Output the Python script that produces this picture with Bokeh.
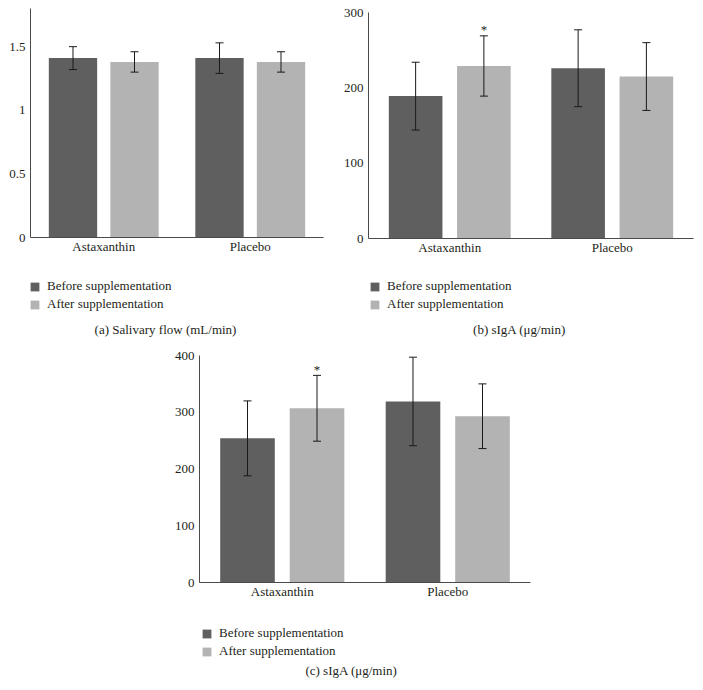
from bokeh.plotting import figure
from bokeh.layouts import column, row
from bokeh.models import (ColumnDataSource, Range1d, FixedTicker, CustomJSTickFormatter,
                          Whisker, TeeHead, Legend, LegendItem, Label)
from bokeh.core.properties import value
from bokeh.embed import file_html
from bokeh.resources import INLINE

# ---------------- data ----------------
categories = ["Astaxanthin", "Placebo"]
series_names = ["Before supplementation", "After supplementation"]

flow_before = [1.41, 1.41]
flow_before_sd = [0.09, 0.12]
flow_after = [1.38, 1.38]
flow_after_sd = [0.08, 0.08]
flow_sig = [False, False]
flow_ticks = [0, 0.5, 1, 1.5]
flow_max = 1.8

igab_before = [189, 226]
igab_before_sd = [45, 51]
igab_after = [229, 215]
igab_after_sd = [40, 45]
igab_sig = [True, False]
igab_ticks = [0, 100, 200, 300]
igab_max = 300

igac_before = [254, 319]
igac_before_sd = [66, 78]
igac_after = [307, 293]
igac_after_sd = [58, 57]
igac_sig = [True, False]
igac_ticks = [0, 100, 200, 300, 400]
igac_max = 400

captions = ["(a) Salivary flow (mL/min)", "(b) sIgA (\u03bcg/min)", "(c) sIgA (\u03bcg/min)"]

# ---------------- style ----------------
FONT = "Liberation Serif"
TXT = "#231f20"
AXIS = "#4a4a4a"
DARK = "#5f5f5f"
LIGHT = "#b3b3b3"
ERR = "#1a1a1a"
OFF = 0.21
BW = 0.33
FS = "13px"


def chart(before, before_sd, after, after_sd, sig, y_max, ticks,
          width, height, bl, br, bt, bb):
    n = len(categories)
    p = figure(width=width, height=height, x_range=Range1d(0, n), y_range=Range1d(0, y_max),
               output_backend="svg", toolbar_location=None,
               min_border_left=bl, min_border_right=br, min_border_top=bt, min_border_bottom=bb)
    p.outline_line_color = None
    p.xgrid.visible = False
    p.ygrid.visible = False

    xb = [i + 0.5 - OFF for i in range(n)]
    xa = [i + 0.5 + OFF for i in range(n)]
    src_b = ColumnDataSource(dict(x=xb, top=before,
                                  upper=[v + e for v, e in zip(before, before_sd)],
                                  lower=[v - e for v, e in zip(before, before_sd)]))
    src_a = ColumnDataSource(dict(x=xa, top=after,
                                  upper=[v + e for v, e in zip(after, after_sd)],
                                  lower=[v - e for v, e in zip(after, after_sd)]))
    p.vbar(x="x", top="top", width=BW, source=src_b, fill_color=DARK, line_color=None)
    p.vbar(x="x", top="top", width=BW, source=src_a, fill_color=LIGHT, line_color=None)

    for src in (src_b, src_a):
        p.add_layout(Whisker(source=src, base="x", upper="upper", lower="lower",
                             dimension="height", line_color=ERR, line_width=1,
                             level="annotation",
                             upper_head=TeeHead(size=8, line_color=ERR, line_width=1),
                             lower_head=TeeHead(size=8, line_color=ERR, line_width=1)))

    sx = [x for x, s in zip(xa, sig) if s]
    sy = [v + e for v, e, s in zip(after, after_sd, sig) if s]
    if sx:
        ssrc = ColumnDataSource(dict(x=sx, y=sy, t=["*"] * len(sx)))
        p.text(x="x", y="y", text="t", source=ssrc, text_font=value(FONT),
               text_font_size=FS, text_align="center", text_baseline="alphabetic",
               y_offset=-6, text_color=TXT)

    p.xaxis.ticker = FixedTicker(ticks=[i + 0.5 for i in range(n)])
    p.xaxis.formatter = CustomJSTickFormatter(args=dict(labels=categories),
                                              code="return labels[Math.round(tick - 0.5)]")
    p.yaxis.ticker = FixedTicker(ticks=ticks)
    p.yaxis.formatter = CustomJSTickFormatter(code="return String(tick)")
    for ax in (p.xaxis[0], p.yaxis[0]):
        ax.axis_line_color = AXIS
        ax.axis_line_width = 1
        ax.major_tick_out = 0
        ax.major_tick_in = 0
        ax.minor_tick_out = 0
        ax.minor_tick_in = 0
        ax.major_label_text_font = FONT
        ax.major_label_text_font_size = FS
        ax.major_label_text_color = TXT
    p.xaxis.major_label_standoff = 1
    p.yaxis.major_label_standoff = 5
    return p


def key(caption, width, height, bl, br, loc, cap_xy):
    k = figure(width=width, height=height, x_range=Range1d(0, 1), y_range=Range1d(0, 1),
               output_backend="svg", toolbar_location=None,
               x_axis_location=None, y_axis_location=None,
               min_border_left=bl, min_border_right=br, min_border_top=0, min_border_bottom=0)
    k.outline_line_color = None
    k.xgrid.visible = False
    k.ygrid.visible = False
    # swatches for the key (kept outside the visible range)
    rb = k.vbar(x=[5], top=[0], width=BW, fill_color=DARK, line_color=None)
    ra = k.vbar(x=[5], top=[0], width=BW, fill_color=LIGHT, line_color=None)
    legend = Legend(items=[LegendItem(label=series_names[0], renderers=[rb]),
                           LegendItem(label=series_names[1], renderers=[ra])],
                    location=loc, orientation="vertical",
                    glyph_width=11, glyph_height=11, label_standoff=7,
                    label_height=15, spacing=2, padding=0, margin=0,
                    border_line_color=None, background_fill_alpha=0,
                    label_text_font=FONT, label_text_font_size=FS,
                    label_text_color=TXT)
    k.add_layout(legend)
    k.add_layout(Label(x=cap_xy[0], y=cap_xy[1], x_units="screen", y_units="screen",
                       text=caption, text_font=FONT, text_font_size=FS,
                       text_align="center", text_baseline="middle", text_color=TXT))
    return k


pa = chart(flow_before, flow_before_sd, flow_after, flow_after_sd, flow_sig,
           flow_max, flow_ticks, 340, 262, 30, 17, 8, 25)
la = key(captions[0], 340, 78, 30, 17, (-1, 28), (135, 11))
pb = chart(igab_before, igab_before_sd, igab_after, igab_after_sd, igab_sig,
           igab_max, igab_ticks, 363, 262, 25, 10, 12, 24)
lb = key(captions[1], 363, 78, 25, 10, (1, 28), (151, 11))
pc = chart(igac_before, igac_before_sd, igac_after, igac_after_sd, igac_sig,
           igac_max, igac_ticks, 703, 267, 199, 173, 15, 25)
lc = key(captions[2], 703, 80, 199, 173, (2, 28), (152, 17))

layout = column(row(column(pa, la), column(pb, lb)), column(pc, lc))
open("out.html", "w").write(file_html(layout, INLINE))
